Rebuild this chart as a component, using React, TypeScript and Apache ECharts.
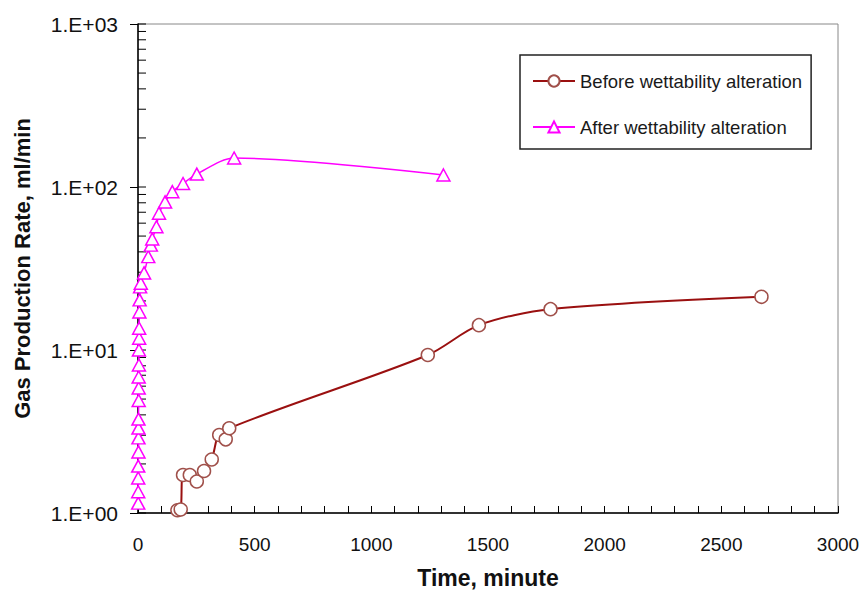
import React, { useEffect, useRef } from "react";
import * as echarts from "echarts";

const beforeTime = [169, 183, 193, 222, 252, 283, 316, 348, 376, 391, 1242, 1461, 1768, 2672];
const beforeRate = [1.04, 1.05, 1.71, 1.71, 1.56, 1.81, 2.13, 3.01, 2.83, 3.31, 9.32, 14.2, 17.8, 21.2];

const afterTime = [1, 1, 1, 1, 2, 2, 2, 2, 3, 3, 3, 4, 4, 5, 5, 6, 7, 9, 12, 26, 44, 55, 61, 79, 90, 116, 147, 193, 252, 412, 1309];
const afterRate = [1.15, 1.35, 1.64, 1.94, 2.37, 2.89, 3.32, 3.77, 4.9, 5.85, 6.83, 8.09, 10, 11.8, 13.6, 17.1, 20.3, 24.4, 25.7, 29.7, 37.4, 44, 48, 57, 69, 81, 93.6, 105, 120, 150.6, 118.5];

const yTickLabels = ["1.E+00", "1.E+01", "1.E+02", "1.E+03"];
const xTicks = [0, 500, 1000, 1500, 2000, 2500, 3000];
const yMinorTicks = [1, 2, 3, 4, 5, 6, 7, 8, 9, 10, 20, 30, 40, 50, 60, 70, 80, 90, 100, 200, 300, 400, 500, 600, 700, 800, 900, 1000];

const FONT = "'Liberation Sans', Arial, sans-serif";

export default function App() {
  const ref = useRef<HTMLDivElement>(null);
  useEffect(() => {
    if (!ref.current) return;
    const chart = echarts.init(ref.current, null, { renderer: "svg" });
    chart.setOption({
      animation: false,
      backgroundColor: "#fff",
      textStyle: { fontFamily: FONT },
      grid: {
        left: 138,
        right: 28,
        top: 24,
        bottom: 80,
        containLabel: false,
        outerBoundsMode: "none",
        show: true,
        borderColor: "#888",
        borderWidth: 1,
        backgroundColor: "transparent",
      },
      legend: {
        orient: "vertical",
        left: 520,
        top: 55,
        data: ["Before wettability alteration", "After wettability alteration"],
        itemWidth: 42,
        itemHeight: 14,
        itemGap: 26,
        padding: [16, 9, 12, 12],
        borderColor: "#222",
        borderWidth: 1.5,
        textStyle: { fontSize: 18.5, lineHeight: 20, color: "#1a1a1a", fontFamily: FONT },
      },
      xAxis: {
        type: "value",
        min: 0,
        max: 3000,
        interval: 500,
        name: "Time, minute",
        nameLocation: "middle",
        nameGap: 53,
        nameTextStyle: { fontSize: 23, fontWeight: "bold", color: "#111", fontFamily: FONT },
        axisLine: { show: true, onZero: false, lineStyle: { color: "#000", width: 1.5 } },
        axisTick: { show: true, inside: true, length: 7, lineStyle: { color: "#000" } },
        minorTick: { show: true, splitNumber: 5, length: 7, lineStyle: { color: "#000" } },
        splitLine: { show: false },
        axisLabel: {
          margin: 22,
          fontSize: 19,
          color: "#111",
          fontFamily: FONT,
          formatter: (v: number) => String(xTicks[Math.round(v / 500)]),
        },
      },
      yAxis: {
        type: "log",
        logBase: 10,
        min: 1,
        max: 1000,
        name: "Gas Production Rate, ml/min",
        nameLocation: "middle",
        nameGap: 105,
        nameTextStyle: { fontSize: 22, fontWeight: "bold", color: "#111", fontFamily: FONT },
        axisLine: { show: true, onZero: false, lineStyle: { color: "#000", width: 1.5 } },
        axisTick: { show: true, inside: false, length: 8, lineStyle: { color: "#000" } },
        splitLine: { show: false },
        axisLabel: {
          margin: 20,
          fontSize: 21,
          color: "#111",
          fontFamily: FONT,
          formatter: (v: number) => yTickLabels[Math.round(Math.log10(v))],
        },
      },
      series: [
        {
          type: "custom",
          name: "minorTicks",
          silent: true,
          clip: false,
          data: yMinorTicks.map((v) => [0, v]),
          renderItem: (_params: any, api: any) => {
            const p = api.coord([0, api.value(1)]);
            return {
              type: "line",
              shape: { x1: p[0], y1: p[1], x2: p[0] + 8, y2: p[1] },
              style: { stroke: "#000", lineWidth: 1 },
            };
          },
          z: 1,
        },
        {
          name: "Before wettability alteration",
          type: "line",
          smooth: 0.3,
          data: beforeTime.map((t, i) => [t, beforeRate[i]]),
          symbol: "circle",
          symbolSize: 13,
          showAllSymbol: true,
          lineStyle: { color: "#9a1010", width: 2 },
          itemStyle: { color: "#fff", borderColor: "#a0504a", borderWidth: 1.5 },
          z: 3,
        },
        {
          name: "After wettability alteration",
          type: "line",
          smooth: 0.3,
          data: afterTime.map((t, i) => [t, afterRate[i]]),
          symbol: "triangle",
          symbolSize: [13, 12],
          showAllSymbol: true,
          lineStyle: { color: "#ff00ff", width: 1.5 },
          itemStyle: { color: "#fff", borderColor: "#ff00ff", borderWidth: 1.5 },
          z: 4,
        },
      ],
    });
    return () => chart.dispose();
  }, []);
  return (
    <div
      ref={ref}
      style={{ position: "fixed", left: 0, top: 0, width: 866, height: 593 }}
    />
  );
}
